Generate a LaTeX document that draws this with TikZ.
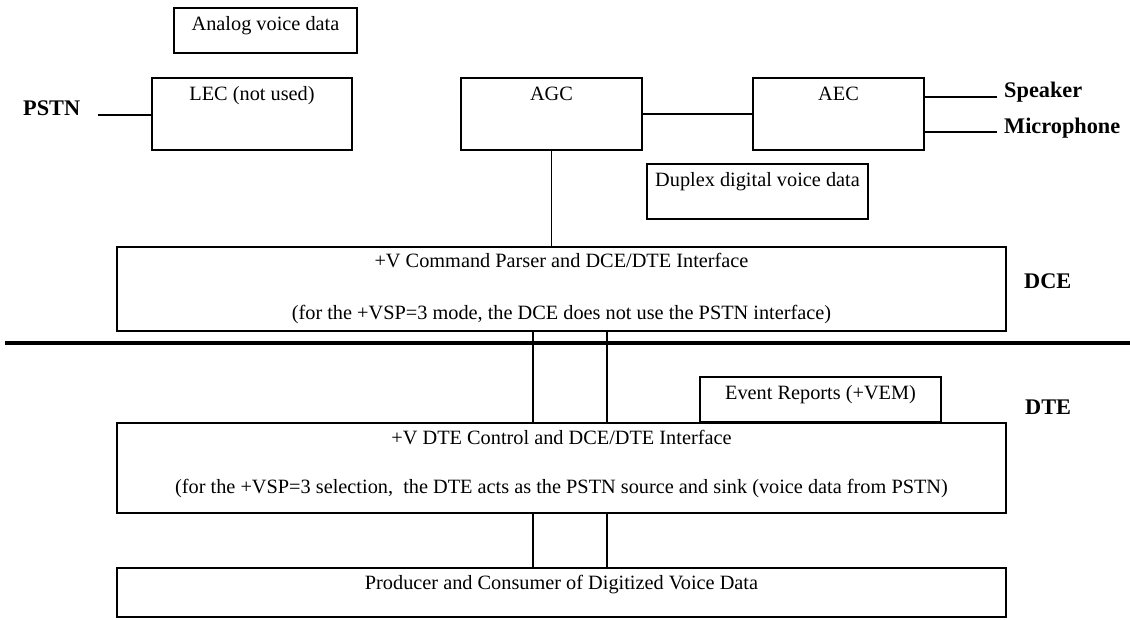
\documentclass[tikz,border=0pt]{standalone}
\newcommand\fullw{889}
\newcommand\midx{561.5}
\usepackage{fontspec}
\setmainfont{Liberation Serif}
\usepackage{tikz}
\usetikzlibrary{positioning}
\tikzset{box/.style={rectangle,draw=black,line width=1.7pt,inner sep=0pt},
         txt/.style={inner sep=0pt,text height=14pt,text depth=4pt,font=\fontsize{20.3}{24}\selectfont},
         btxt/.style={inner sep=0pt,font=\fontsize{22.3}{26}\selectfont\bfseries},
         link/.style={line width=1.4pt}}
\begin{document}
\begin{tikzpicture}[x=1pt,y=-1pt]
                \useasboundingbox (0,0) rectangle (1130,619);
                \node[box, minimum width=183pt, minimum height=45pt] (analog) at (265.5,30.5) {};
                \node[box, minimum width=200pt, minimum height=72pt] (lec) at (252,114) {};
                \node[box, minimum width=181pt, minimum height=72pt] (agc) at (551.5,114) {};
                \node[box, minimum width=171pt, minimum height=72pt] (aec) at (838.5,114) {};
                \node[box, minimum width=221pt, minimum height=55pt] (duplex) at (757.5,191.5) {};
                \node[box, minimum width=\fullw pt, minimum height=84pt] (parser) at (\midx,289) {};
                \node[box, minimum width=241pt, minimum height=45pt] (event) at (820.5,399.5) {};
                \node[box, minimum width=\fullw pt, minimum height=90pt] (dtectl) at (\midx,468) {};
                \node[box, minimum width=\fullw pt, minimum height=49pt] (producer) at (\midx,592.5) {};

                \node[txt, below=9pt of analog.north] (analogtxt) {Analog voice data};
                \node[txt, below=9pt of lec.north] (lectxt) {LEC (not used)};
                \node[txt, below=9pt of agc.north] (agctxt) {AGC};
                \node[txt, below=9pt of aec.north] (aectxt) {AEC};
                \node[txt, below=9pt of duplex.north] (duplextxt) {Duplex digital voice data};
                \node[txt, below=7pt of parser.north] (parsertop) {+V Command Parser and DCE/DTE Interface};
                \node[txt, below=34pt of parsertop] (parserbot) {(for the +VSP=3 mode, the DCE does not use the PSTN interface)};
                \node[txt, below=9pt of event.north] (eventtxt) {Event Reports (+VEM)};
                \node[txt, below=8pt of dtectl.north] (dtetop) {+V DTE Control and DCE/DTE Interface};
                \node[txt, below=31pt of dtetop] (dtebot) {(for the +VSP=3 selection,\ \ the DTE acts as the PSTN source and sink (voice data from PSTN)};
                \node[txt, below=8pt of producer.north] (producertxt) {Producer and Consumer of Digitized Voice Data};

                \node[btxt, anchor=base west] (pstn) at (23,115) {PSTN};
                \node[btxt, anchor=base west] (speaker) at (1004,97) {Speaker};
                \node[btxt, anchor=base west] (micro) at (1004,133) {Microphone};
                \node[btxt, anchor=base west] (dce) at (1024,288) {DCE};
                \node[btxt, anchor=base west] (dte) at (1025,414) {DTE};

                \coordinate (pstnend) at (98,115);
                \coordinate (spkend) at (997,97);
                \coordinate (micend) at (997,132);
                \coordinate (sepl) at (5,343);
                \coordinate (sepr) at (1130,343);

                \draw[link] (pstnend) -- (pstnend -| lec.west);
                \draw[link] (agc) -- (aec);
                \draw[link] (spkend -| aec.east) -- (spkend);
                \draw[link] (micend -| aec.east) -- (micend);
                \draw[link] (agc.south) -- (agc.south |- parser.north);
                \foreach \lx [count=\i] in {533,607}{
                    \coordinate (bus\i) at (\lx,0);
                    \draw[link] (bus\i |- parser.south) -- (bus\i |- dtectl.north);
                    \draw[link] (bus\i |- dtectl.south) -- (bus\i |- producer.north);
                }
                \draw[line width=4pt] (sepl) -- (sepr);
            \end{tikzpicture}
\end{document}
